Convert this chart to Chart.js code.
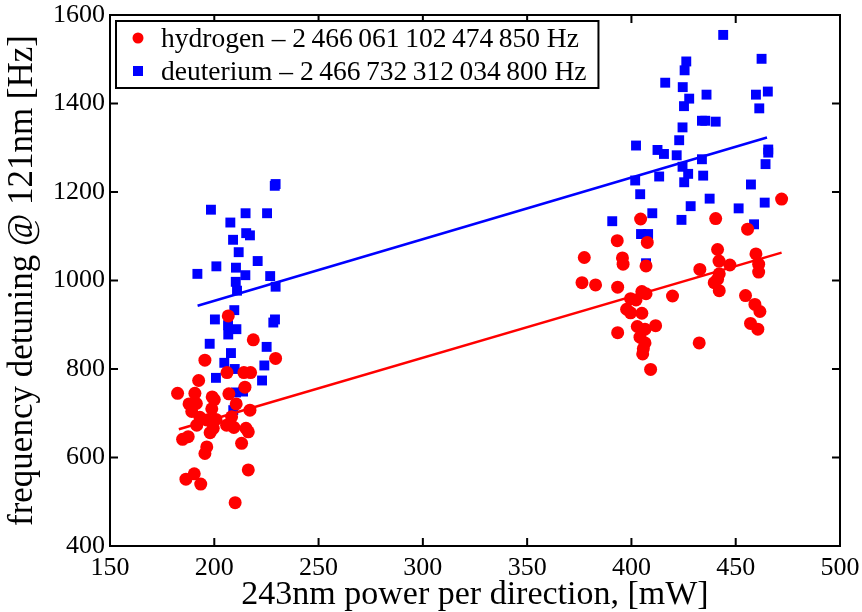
<!DOCTYPE html>
<html>
<head>
<meta charset="utf-8">
<script src="https://cdn.jsdelivr.net/npm/chart.js@4.4.1/dist/chart.umd.min.js"></script>
<style>
  html, body { margin: 0; padding: 0; background: #fff; }
</style>
</head>
<body>
<canvas id="c" width="862" height="612"></canvas>
<script>
// hydrogen measurements (power mW, detuning Hz)
const hydrogenX = [
  206.7, 218.7, 229.4, 195.5, 206.1, 214.2, 217.4, 192.5, 214.7, 182.4, 190.7, 199, 200, 207, 210.5, 187.9,
  191.4, 189.2, 198.8, 217.1, 193.1, 196.4, 200.8, 208.3, 191.6, 199.5, 205.9, 209.4, 215.2, 216.3, 187.5,
  184.8, 198, 213.1, 196.4, 195.5, 190.4, 186.4, 193.5, 216.3, 210,
  404.4, 393.2, 407.6, 377.4, 395.7, 396, 407, 376.3, 382.8, 393.4, 405, 407, 419.7, 399.6, 402.2, 397.7,
  399.6, 405, 411.6, 402.8, 406.5, 393.4, 404.1, 406.5, 405.7, 405.4, 409.2,
  472, 440.4, 455.7, 441.3, 459.7, 442, 447.2, 461, 432.8, 461, 442.1, 441.3, 439.7, 442.1, 454.7, 459.2,
  461.6, 457.1, 460.6, 432.5
];
const hydrogenY = [
  920, 866, 824, 820, 792, 792, 792, 774, 759, 745, 745, 737, 731, 744, 721, 721,
  722, 704, 710, 707, 691, 685, 686, 692, 673, 666, 673, 668, 666, 658, 647,
  641, 656, 632, 624, 609, 563, 551, 540, 572, 498,
  1139, 1090, 1086, 1052, 1051, 1037, 1033, 995, 990, 985, 975, 970, 965, 959, 956, 935,
  927, 926, 898, 896, 890, 882, 872, 859, 846, 834, 799,
  1184, 1140, 1116, 1070, 1060, 1044, 1035, 1037, 1025, 1019, 1015, 1003, 995, 977, 966, 946,
  930, 903, 890, 859
];

// deuterium measurements
const deuteriumX = [
  229.4, 229, 198.4, 215, 225.3, 207.7, 215.3, 217.1, 209, 211.7, 220.8, 191.9, 201, 210.4, 214.9, 226.8,
  210.3, 229.4, 210.9, 209.6, 200.3, 229.1, 228.3, 206.6, 210.6, 206.7, 197.8, 225.1, 208, 204.8, 224,
  209.8, 200.8, 222.9, 210.4, 213.8, 209.1,
  416.2, 402.2, 412.5, 415.6, 401.8, 413.3, 404.2, 444, 426.3, 462.4, 425.5, 424.6, 436, 459.7, 465.4, 427.7,
  425.2, 461.3, 433.8, 435.4, 440.4, 424.5, 422.9, 465.6, 465.6, 421.7, 464.3, 433.8, 424.5, 427.2, 425.3,
  434.4, 457.3, 437.5, 428.4, 451.4, 463.9, 424, 458.8, 410, 390.8, 404.6, 408, 407
];
const deuteriumY = [
  1218, 1214, 1160, 1152, 1152, 1131, 1107, 1102, 1092, 1064, 1044, 1015, 1032, 1029, 1012, 1010,
  997, 986, 977, 933, 912, 912, 905, 899, 890, 878, 857, 850, 836, 814, 808,
  800, 780, 774, 747, 749, 707,
  1447, 1305, 1295, 1286, 1226, 1235, 1195, 1555, 1495, 1501, 1475, 1437, 1420, 1420, 1427, 1411,
  1394, 1389, 1361, 1361, 1359, 1346, 1317, 1296, 1289, 1283, 1263, 1274, 1257, 1241, 1222,
  1237, 1217, 1185, 1168, 1163, 1176, 1137, 1127, 1152, 1134, 1105, 1105, 1039
];

// linear fits (end points)
const hydrogenFitX = [183, 472];
const hydrogenFitY = [664, 1063];
const deuteriumFitX = [192, 465];
const deuteriumFitY = [943, 1323];

const xTicks = [150, 200, 250, 300, 350, 400, 450, 500];
const yTicks = [400, 600, 800, 1000, 1200, 1400, 1600];

const legendLabels = [
  'hydrogen \u2013 2\u2009466\u2009061\u2009102\u2009474\u2009850 Hz',
  'deuterium \u2013 2\u2009466\u2009732\u2009312\u2009034\u2009800 Hz'
];

const RED = '#ff0000';
const BLUE = '#0000ff';
const SERIF = '"Liberation Serif", "Times New Roman", serif';

const zip = (xs, ys) => xs.map((x, i) => ({ x: x, y: ys[i] }));

// frame with inward ticks, matlab style
const frame = {
  id: 'frame',
  afterDatasetsDraw(chart) {
    const { ctx, chartArea: a, scales } = chart;
    ctx.save();
    ctx.strokeStyle = '#000';
    ctx.lineWidth = 2;
    ctx.strokeRect(a.left, a.top, a.right - a.left, a.bottom - a.top);
    ctx.beginPath();
    xTicks.forEach((v) => {
      const px = scales.x.getPixelForValue(v);
      ctx.moveTo(px, a.bottom); ctx.lineTo(px, a.bottom - 8);
      ctx.moveTo(px, a.top); ctx.lineTo(px, a.top + 8);
    });
    yTicks.forEach((v) => {
      const py = scales.y.getPixelForValue(v);
      ctx.moveTo(a.left, py); ctx.lineTo(a.left + 8, py);
      ctx.moveTo(a.right, py); ctx.lineTo(a.right - 8, py);
    });
    ctx.stroke();
    ctx.restore();
  }
};

// boxed legend in the top left corner
const boxLegend = {
  id: 'boxLegend',
  afterDraw(chart) {
    const { ctx, chartArea: a } = chart;
    ctx.save();
    ctx.font = '27.5px ' + SERIF;
    const tw = Math.max(...legendLabels.map((t) => ctx.measureText(t).width));
    const x0 = a.left + 6, y0 = a.top + 6, w = tw + 45 + 12, h = 67;
    ctx.fillStyle = '#fff';
    ctx.fillRect(x0, y0, w, h);
    ctx.strokeStyle = '#000';
    ctx.lineWidth = 2;
    ctx.strokeRect(x0, y0, w, h);
    ctx.textBaseline = 'alphabetic';
    ctx.fillStyle = '#000';
    ctx.fillText(legendLabels[0], x0 + 45, y0 + 26);
    ctx.fillText(legendLabels[1], x0 + 45, y0 + 59);
    ctx.fillStyle = RED;
    ctx.beginPath();
    ctx.arc(x0 + 22, y0 + 17, 5.5, 0, Math.PI * 2);
    ctx.fill();
    ctx.fillStyle = BLUE;
    ctx.fillRect(x0 + 17, y0 + 45, 10, 10);
    ctx.restore();
  }
};

new Chart(document.getElementById('c'), {
  type: 'scatter',
  data: {
    datasets: [
      {
        label: 'hydrogen fit',
        type: 'line',
        data: zip(hydrogenFitX, hydrogenFitY),
        borderColor: RED,
        borderWidth: 2.5,
        pointRadius: 0,
        fill: false
      },
      {
        label: 'deuterium fit',
        type: 'line',
        data: zip(deuteriumFitX, deuteriumFitY),
        borderColor: BLUE,
        borderWidth: 2.5,
        pointRadius: 0,
        fill: false
      },
      {
        label: legendLabels[0],
        data: zip(hydrogenX, hydrogenY),
        backgroundColor: RED,
        borderWidth: 0,
        pointStyle: 'circle',
        pointRadius: 6.5
      },
      {
        label: legendLabels[1],
        data: zip(deuteriumX, deuteriumY),
        backgroundColor: BLUE,
        borderWidth: 0,
        pointStyle: 'rect',
        pointRadius: 7
      }
    ]
  },
  options: {
    responsive: false,
    animation: false,
    layout: { padding: { left: 0, right: 22, top: 15, bottom: 0 } },
    scales: {
      x: {
        type: 'linear',
        min: 150,
        max: 500,
        grid: { display: false },
        border: { display: false },
        afterBuildTicks: (s) => { s.ticks = xTicks.map((v) => ({ value: v })); },
        afterFit: (s) => { s.height = 66; },
        ticks: { color: '#000', padding: -1, font: { family: SERIF, size: 26 } },
        title: {
          display: true,
          text: '243nm power per direction, [mW]',
          color: '#000',
          padding: { top: 0, bottom: -2 },
          font: { family: SERIF, size: 34, lineHeight: 1.1 }
        }
      },
      y: {
        min: 400,
        max: 1600,
        grid: { display: false },
        border: { display: false },
        afterBuildTicks: (s) => { s.ticks = yTicks.map((v) => ({ value: v })); },
        afterFit: (s) => { s.width = 110; },
        ticks: {
          color: '#000',
          padding: -3,
          font: { family: SERIF, size: 26 },
          callback: (v) => String(v)
        },
        title: {
          display: true,
          text: 'frequency detuning @ 121nm [Hz]',
          color: '#000',
          padding: { top: 4, bottom: 0 },
          font: { family: SERIF, size: 35, lineHeight: 1.1 }
        }
      }
    },
    plugins: {
      legend: { display: false },
      tooltip: { enabled: false }
    }
  },
  plugins: [frame, boxLegend]
});
</script>
</body>
</html>
